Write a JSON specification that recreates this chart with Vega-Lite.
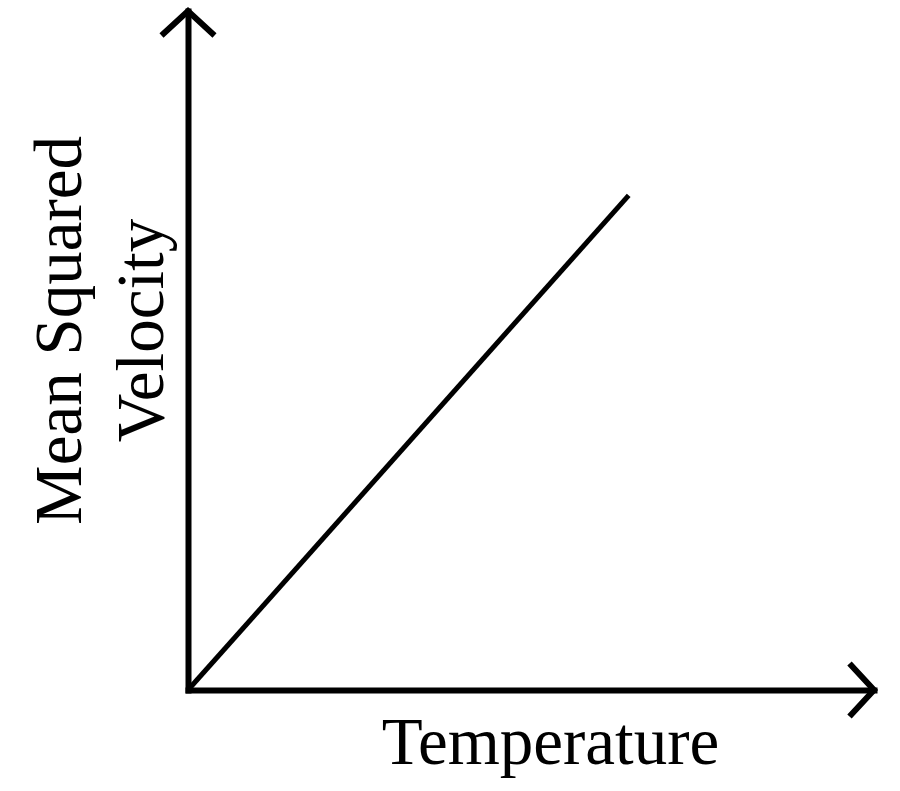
{
  "$schema": "https://vega.github.io/schema/vega-lite/v6.json",
  "width": 900,
  "height": 690,
  "autosize": {"type": "none"},
  "padding": {"left": 0, "top": 0, "right": 0, "bottom": 101},
  "background": "white",
  "config": {"view": {"stroke": null}, "font": "Liberation Serif"},
  "datasets": {
    "trend": [
      {"temperature": 0, "velocity": 0},
      {"temperature": 6.424, "velocity": 7.285}
    ],
    "yEnd": [{"temperature": 0, "velocity": 10}],
    "xEnd": [{"temperature": 10, "velocity": 0}]
  },
  "encoding": {
    "x": {
      "field": "temperature",
      "type": "quantitative",
      "scale": {"domain": [0, 10], "range": [188, 874], "nice": false, "zero": false},
      "axis": {
        "title": "Temperature",
        "grid": false,
        "ticks": false,
        "labels": false,
        "domainColor": "black",
        "domainWidth": 6,
        "domainCap": "square",
        "titleFont": "Liberation Serif",
        "titleFontSize": 67,
        "titleFontWeight": "normal",
        "titleColor": "black",
        "titleX": 550,
        "titleY": 73,
        "titleAlign": "center",
        "titleBaseline": "alphabetic"
      }
    },
    "y": {
      "field": "velocity",
      "type": "quantitative",
      "scale": {"domain": [0, 10], "range": [690, 11], "nice": false, "zero": false},
      "axis": {
        "title": ["Mean Squared", "Velocity"],
        "offset": -188,
        "grid": false,
        "ticks": false,
        "labels": false,
        "domainColor": "black",
        "domainWidth": 6,
        "domainCap": "square",
        "titleFont": "Liberation Serif",
        "titleFontSize": 67,
        "titleFontWeight": "normal",
        "titleColor": "black",
        "titleAngle": 270,
        "titleX": -108,
        "titleY": 330,
        "titleLineHeight": 82,
        "titleAlign": "center",
        "titleBaseline": "alphabetic"
      }
    }
  },
  "layer": [
    {
      "data": {"name": "trend"},
      "mark": {"type": "line", "color": "black", "strokeWidth": 5}
    },
    {
      "data": {"name": "yEnd"},
      "mark": {
        "type": "point",
        "shape": "M-1,0.925L0,0L1,0.925",
        "filled": false,
        "fill": null,
        "stroke": "black",
        "strokeWidth": 6,
        "strokeJoin": "miter",
        "opacity": 1,
        "size": 2809
      }
    },
    {
      "data": {"name": "xEnd"},
      "mark": {
        "type": "point",
        "shape": "M-1,0.925L0,0L1,0.925",
        "angle": 90,
        "filled": false,
        "fill": null,
        "stroke": "black",
        "strokeWidth": 6,
        "strokeJoin": "miter",
        "opacity": 1,
        "size": 2809
      }
    }
  ]
}
